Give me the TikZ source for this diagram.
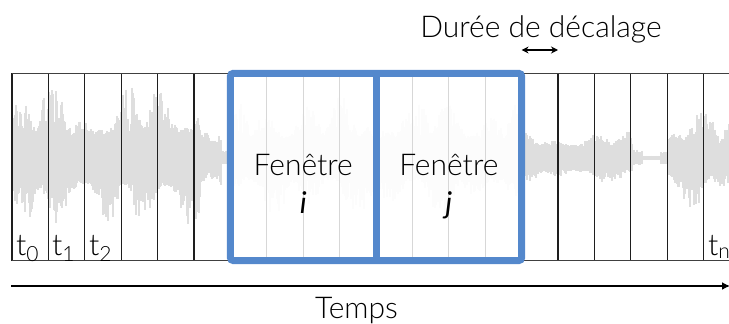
\documentclass[tikz,border=0pt]{standalone}
\usepackage{fontspec}
\setmainfont{Lato}[UprightFont=* Light, ItalicFont=* Italic]
\usetikzlibrary{calc}
\usetikzlibrary{arrows.meta}

\definecolor{winblue}{RGB}{84,136,204}
\definecolor{wavegray}{RGB}{222,222,222}
\definecolor{cellline}{RGB}{30,30,30}
\definecolor{innerline}{RGB}{215,215,215}

\begin{document}
\begin{tikzpicture}[x=1pt,y=-1pt]

  \useasboundingbox (0,0) rectangle (729,324);
  \clip (0,0) rectangle (729,324);

  \path
    let
     \n{cell} = {36.4},
     \n{left} = {12},
     \n{top}  = {73.3},
     \n{bot}  = {260.6}
    in
     coordinate (boxtl)   at (\n{left}, \n{top})
     coordinate (boxtr)   at (740, \n{top})
     coordinate (boxbl)   at (\n{left}, \n{bot})
     coordinate (boxbr)   at (740, \n{bot})
     coordinate (wistart) at (\n{left}+6*\n{cell}, \n{top})
     coordinate (wimid)   at (\n{left}+10*\n{cell}, \n{top})
     coordinate (wiend)   at (\n{left}+14*\n{cell}, \n{bot})
     coordinate (shiftl)  at (\n{left}+14*\n{cell}, 50)
     coordinate (shiftr)  at (\n{left}+15*\n{cell}, 50)
     coordinate (tstart)  at (11, 286)
     coordinate (tend)    at (730, 286)
    ;

  % Waveform
  \tikzset{wave/.style = {draw=wavegray, line width=1.2pt}}
  \pgfmathsetseed{11}
  \foreach \xa/\xb/\base/\spike in {12/60/28/56, 61/124/26/48, 125/200/28/54,
      201/221/16/30, 222/230/5/5, 231/520/22/46, 521/632/13/16,
      633/642/6/4, 643/660/2/1, 661/668/6/6, 669/729/18/36} {
    \foreach \x in {\xa,...,\xb} {
      \pgfmathsetmacro{\up}{\base*(0.85+0.15*rnd)+\spike*abs(sin(\x*5)*sin(\x*1.9))*rnd}
      \pgfmathsetmacro{\dn}{\base*(0.85+0.15*rnd)+0.95*\spike*abs(sin(\x*4.3)*sin(\x*2.2))*rnd}
      \path [wave] (\x,{158-\up}) -- (\x,{158+\dn});
    }
  }

  % Fill inside windows
  \path [fill=white, fill opacity=0.93] (wistart) rectangle (wiend);

  % Cells
  \tikzset{cellstyle/.style = {draw=cellline, line width=1.2pt}}
  \tikzset{innerstyle/.style = {draw=innerline, line width=1.2pt}}
  \foreach \k in {0,1,2,3,4,5,15,16,17,18,19}
    \path [cellstyle] ($(boxtl)+(\k*36.4,0)$) -- ($(boxbl)+(\k*36.4,0)$);
  \foreach \k in {7,8,9,11,12,13}
    \path [innerstyle] ($(boxtl)+(\k*36.4,0)$) -- ($(boxbl)+(\k*36.4,0)$);
  \path [draw=cellline!85, line width=1.5pt] (boxtl) -- (boxtr) (boxbl) -- (boxbr);

  % Windows
  \tikzset{winstyle/.style = {draw=winblue, line width=7pt, rounded corners=3pt}}
  \path [winstyle] (wistart) rectangle (wiend);
  \path [winstyle] (wimid) -- (wimid |- wiend);

  % Labels
  \tikzset{labelstyle/.style = {inner sep=0pt, anchor=base, font=\fontsize{30}{36}\selectfont}}
  \node [labelstyle] (Fenetrei) at ($(wistart)!0.5!(wimid)+(0,101.7)$) {Fenêtre};
  \node [labelstyle] (Ilabel) at ($(Fenetrei.base)+(0,38)$) {\textit{i}};
  \node [labelstyle] (Fenetrej) at ($(wimid)!0.5!(wiend |- wimid)+(0,101.7)$) {Fenêtre};
  \node [labelstyle] (Jlabel) at ($(Fenetrej.base)+(0,38)$) {\textit{j}};

  \tikzset{tickstyle/.style = {labelstyle, anchor=base west}}
  \node [tickstyle] (T0) at (16,255) {t\textsubscript{0}};
  \node [tickstyle] (T1) at (52,255) {t\textsubscript{1}};
  \node [tickstyle] (T2) at (89,255) {t\textsubscript{2}};
  \node [tickstyle] (Tn) at (708,255) {t\textsubscript{n}};

  \node [labelstyle] (Shift) at (541,37) {Durée de décalage};
  \node [labelstyle] (Time) at (356.5,318) {Temps};

  % Arrows
  \path [draw, line width=1.5pt, {Stealth[length=7pt,width=7pt]}-{Stealth[length=7pt,width=7pt]}] (shiftl) -- (shiftr);
  \path [draw, line width=2pt, -{Latex[length=8pt,width=8pt]}] (tstart) -- (tend);

\end{tikzpicture}
\end{document}
